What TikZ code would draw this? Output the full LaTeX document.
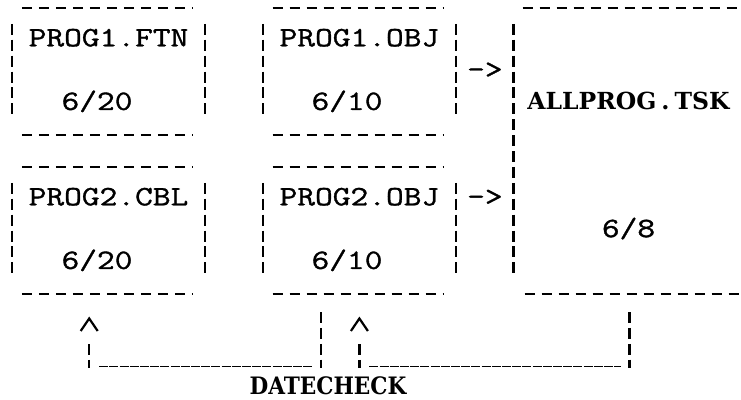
\documentclass[tikz,border=0pt]{standalone}
\usepackage{fontspec}
\newfontfamily\typefont{Latin Modern Mono}[FakeStretch=1.23,FakeBold=1.2]
\newfontfamily\heavyfont{DejaVu Serif}
\newfontfamily\heavycfont{DejaVu Serif Condensed}
\begin{document}
\begin{tikzpicture}[x=1pt,y=-1pt,
  txt/.style={font=\typefont\fontsize{28}{34}\selectfont, anchor=base, inner sep=0pt},
  bigtxt/.style={font=\heavyfont\bfseries\fontsize{23.5}{28}\selectfont, anchor=base, inner sep=0pt},
  dctxt/.style={font=\heavycfont\bfseries\fontsize{24}{28}\selectfont, anchor=base, inner sep=0pt},
  vbar/.style={line width=2.3pt, dash pattern=on 11pt off 4.9pt},
  hdash/.style={line width=2.1pt, dash pattern=on 10.5pt off 6.5pt},
  uline/.style={line width=1.6pt, dash pattern=on 9pt off 1.2pt},
  caret/.style={line width=2.2pt},
  filebox/.style={draw=none, rectangle, inner sep=0pt, minimum width=193pt, minimum height=127pt}
]
\useasboundingbox (0,0) rectangle (741,399);

% boxes
\node[filebox] (b1) at (108.5,71.5) {};
\node[filebox] (b2) at (359.4,71.5) {};
\node[filebox] (b3) at (108.5,230.5) {};
\node[filebox] (b4) at (359.4,230.5) {};
\node[filebox, minimum width=227.2pt, minimum height=286pt] (b5) at (627.4,151) {};

\foreach \b in {b1,b2,b3,b4}{
  \draw[hdash] ([xshift=10pt]\b.north west) -- ([xshift=-12pt]\b.north east);
  \draw[hdash] ([xshift=10pt]\b.south west) -- ([xshift=-12pt]\b.south east);
  \draw[vbar] ([yshift=-16pt]\b.north west) -- ([yshift=19pt]\b.south west);
  \draw[vbar] ([yshift=-16pt]\b.north east) -- ([yshift=19pt]\b.south east);
}
\draw[hdash] ([xshift=9pt]b5.north west) -- (b5.north east);
\draw[hdash] ([xshift=11pt]b5.south west) -- (b5.south east);
\draw[vbar] ([yshift=-16pt]b5.north west) -- ([yshift=20pt]b5.south west);

% texts
\node[txt] (t1) at (108.5,46.3) {PROG1.FTN};
\node[txt] (t1d) at (97,109.9) {6/20};
\node[txt] (t2) at (359.4,46.3) {PROG1.OBJ};
\node[txt] (t2d) at (347,109.9) {6/10};
\node[txt] (t3) at (108.5,205.3) {PROG2.CBL};
\node[txt] (t3d) at (97,268.9) {6/20};
\node[txt] (t4) at (359.4,205.3) {PROG2.OBJ};
\node[txt] (t4d) at (347,268.9) {6/10};
\node[bigtxt] (t5) at (628.5,109.5) {ALLPROG\kern5pt.\kern5pt TSK};
\node[txt] (t5d) at (628.5,237.1) {6/8};

% arrows between boxes
\node[txt] (a1) at (484.9,78.1) {->};
\node[txt] (a2) at (484.9,205.3) {->};

% DATECHECK brackets
\coordinate (p1) at (89.2,344);
\coordinate (p1b) at (89.2,368);
\coordinate (q1) at (320.8,312);
\coordinate (q1b) at (320.8,368);
\coordinate (p2) at (359.4,344);
\coordinate (p2b) at (359.4,368);
\coordinate (q2) at (629.6,312);
\coordinate (q2b) at (629.6,368);

\draw[caret] (80.7,331) -- (89.2,318.5) -- (97.7,331);
\draw[caret] (350.9,331) -- (359.4,318.5) -- (367.9,331);

\draw[vbar] (p1) -- (p1b);
\draw[vbar] (q1) -- (q1b);
\draw[vbar] (p2) -- (p2b);
\draw[vbar] (q2) -- (q2b);
\draw[uline] ([xshift=10pt]p1b |- 0,366.5) -- ([xshift=-9pt]q1b |- 0,366.5);
\draw[uline] ([xshift=10pt]p2b |- 0,366.5) -- ([xshift=-9pt]q2b |- 0,366.5);

\node[dctxt] (dc) at (328,394.5) {DATECHECK};
\end{tikzpicture}
\end{document}
